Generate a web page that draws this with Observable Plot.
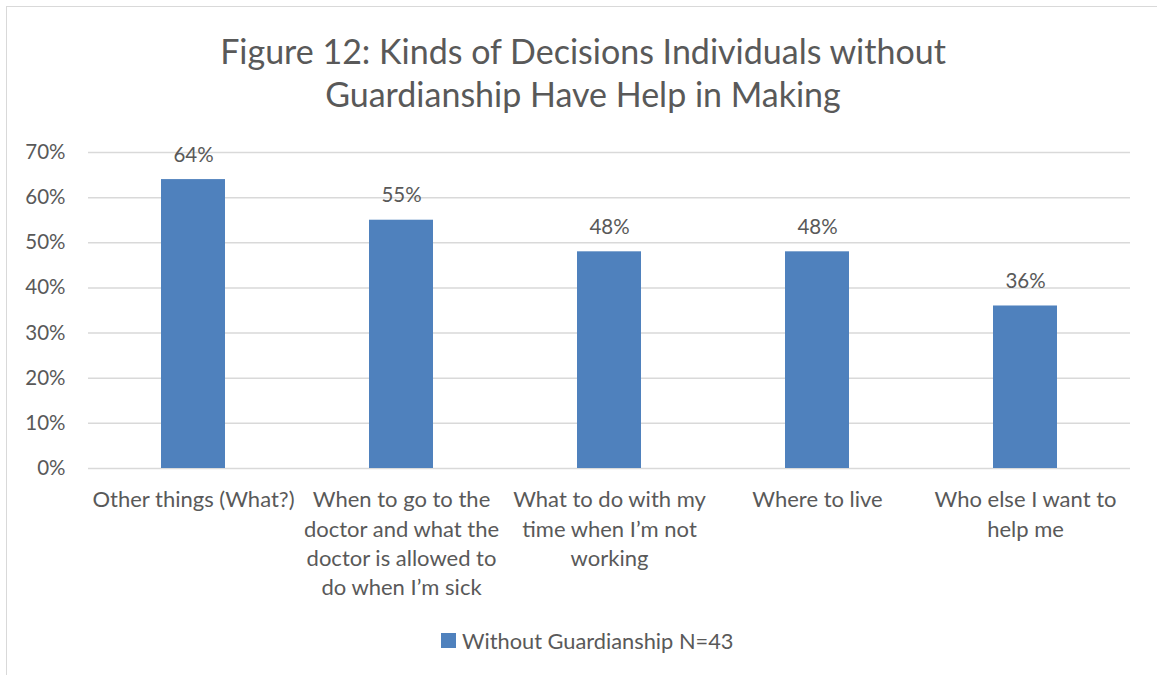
<!DOCTYPE html>
<html>
<head>
<meta charset="utf-8">
<script src="https://cdn.jsdelivr.net/npm/d3@7"></script>
<script src="https://cdn.jsdelivr.net/npm/@observablehq/plot@0.6"></script>
<style>
  html, body { margin: 0; padding: 0; background: #fff; }
  #wrap { position: relative; width: 1157px; height: 675px; overflow: hidden; font-family: Lato, "Open Sans", sans-serif; color: #595959; }
  #frame { position: absolute; left: 6px; top: 6px; width: 1200px; height: 800px; border: 1.5px solid #d9d9d9; box-sizing: border-box; }
  #title { position: absolute; left: 0; top: 29px; width: 1166px; text-align: center; font-size: 34px; line-height: 43.3px; }
  #chart { position: absolute; left: 0; top: 130px; }
  #legend { position: absolute; left: 441px; top: 627px; display: flex; align-items: center; font-size: 21.8px; }
  #legend .sw { width: 15px; height: 15px; background: #4F81BD; margin-right: 6px; }
</style>
</head>
<body>
<div id="wrap">
  <div id="frame"></div>
  <div id="title">Figure 12: Kinds of Decisions Individuals without<br>Guardianship Have Help in Making</div>
  <div id="chart"></div>
  <div id="legend"><div class="sw"></div><span id="legendText"></span></div>
</div>
<script>
const categories = [
  "Other things (What?)",
  "When to go to the\ndoctor and what the\ndoctor is allowed to\ndo when I’m sick",
  "What to do with my\ntime when I’m not\nworking",
  "Where to live",
  "Who else I want to\nhelp me"
];
const values = [0.64, 0.55, 0.48, 0.48, 0.36];
const yTicks = [0, 0.1, 0.2, 0.3, 0.4, 0.5, 0.6, 0.7];
const seriesName = "Without Guardianship N=43";
const barColor = "#4F81BD";

const data = categories.map((c, i) => ({cat: c, value: values[i]}));
const pct = d => Math.round(d * 100) + "%";

document.getElementById("legendText").textContent = seriesName;

const chart = Plot.plot({
  width: 1157,
  height: 480,
  marginLeft: 88,
  marginRight: 27,
  marginTop: 22,
  marginBottom: 142,
  style: {fontFamily: "Lato, 'Open Sans', sans-serif", color: "#595959", background: "transparent", overflow: "visible"},
  x: {domain: categories, paddingInner: 0.69, paddingOuter: 0.345, axis: null},
  y: {domain: [0, 0.7], axis: null},
  marks: [
    Plot.gridY(yTicks, {stroke: "#d9d9d9", strokeOpacity: 1, strokeWidth: 1.5}),
    Plot.barY(data, {x: "cat", y: "value", fill: barColor}),
    Plot.axisY(yTicks, {label: null, tickSize: 0, tickPadding: 23, tickFormat: pct, fontSize: 20.5, fill: "#595959"}),
    Plot.text(data, {x: "cat", y: "value", text: d => pct(d.value), lineAnchor: "bottom", dy: -18, fontSize: 20.5, fill: "#595959"}),
    Plot.text(categories, {x: d => d, text: d => d, frameAnchor: "bottom", lineAnchor: "top", dy: 18, lineHeight: 1.33, fontSize: 22, fill: "#595959"})
  ]
});
document.getElementById("chart").appendChild(chart);
</script>
</body>
</html>
